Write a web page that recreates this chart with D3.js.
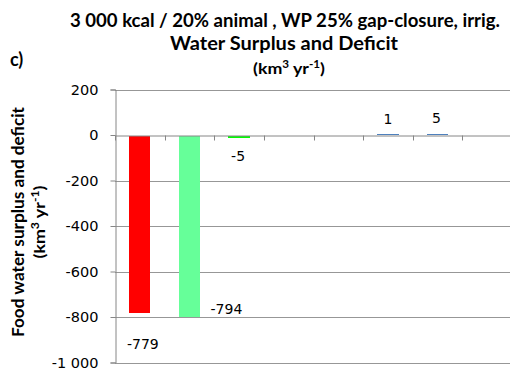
<!DOCTYPE html>
<html>
<head>
<meta charset="utf-8">
<script src="https://cdn.jsdelivr.net/npm/d3@7/dist/d3.min.js"></script>
<style>
  html, body { margin: 0; padding: 0; background: #ffffff; }
  svg { display: block; }
</style>
</head>
<body>
<svg id="chart" width="510" height="374"></svg>
<script>
// Water surplus / deficit per bar group (km3 per year); empty groups hold null
const categories = ["1", "2", "3", "4", "5", "6", "7", "8"];
const values = [-779, -794, -5, null, null, 1, 5, null];
const yTicks = [200, 0, -200, -400, -600, -800, -1000];
const titleLines = ["3 000 kcal / 20% animal , WP 25% gap-closure, irrig.", "Water Surplus and Deficit"];
const yTitle = "Food water surplus and deficit";

const barColors = ["#ff0000", "#66ff99", "#00ff00", "#4f81bd", "#4f81bd", "#4f81bd", "#4f81bd", "#4f81bd"];
// label placement relative to the bar end (dx, dy)
const labelOffsets = [[3, 37], [37, -2], [-1, 25], [0, 0], [0, 0], [0, -11], [-1, -11], [0, 0]];

const svg = d3.select("#chart");
const plot = { left: 115, right: 512, top: 89.5, bottom: 362.5 };

const x = d3.scaleBand()
  .domain(categories)
  .range([plot.left, plot.right])
  .paddingInner(0.57)
  .paddingOuter(0.285);

const y = d3.scaleLinear()
  .domain([-1000, 200])
  .range([plot.bottom, plot.top]);

const fmt = v => d3.format(",")(v).replace(/,/g, "\u00a0").replace(/\u2212/g, "-");
const zeroY = Math.round(y(0));

// horizontal gridlines
svg.append("g")
  .selectAll("line")
  .data(yTicks.filter(t => t !== 0))
  .join("line")
  .attr("x1", plot.left).attr("x2", plot.right)
  .attr("y1", d => Math.round(y(d)) + 0.5).attr("y2", d => Math.round(y(d)) + 0.5)
  .attr("stroke", "#979797").attr("stroke-width", 1);

const barData = categories.map((c, i) => ({ c, v: values[i], i })).filter(d => d.v !== null);

// bars (very small values keep a hairline so they stay visible)
svg.append("g")
  .attr("shape-rendering", "crispEdges")
  .selectAll("rect")
  .data(barData)
  .join("rect")
  .attr("x", d => x(d.c))
  .attr("width", x.bandwidth())
  .attr("y", d => d.v < 0 ? zeroY + 1 : Math.min(y(d.v), zeroY - 1))
  .attr("height", d => Math.max(Math.abs(y(d.v) - y(0)), d.v < 0 ? 2 : 1))
  .attr("fill", d => barColors[d.i]);

// y axis
const yAxis = d3.axisLeft(y)
  .tickValues(yTicks)
  .tickSize(5)
  .tickPadding(12)
  .tickFormat(fmt);
const gy = svg.append("g")
  .attr("transform", `translate(${plot.left + 0.5},0)`)
  .call(yAxis);
gy.select(".domain").attr("stroke", "#868686");
gy.selectAll(".tick line").attr("stroke", "#868686");
gy.selectAll(".tick text")
  .attr("fill", "#000")
  .style("font-family", "'DejaVu Sans', sans-serif")
  .style("font-size", "14.5px");

// category axis along zero
const xAxis = d3.axisBottom(x)
  .tickSize(0)
  .tickFormat("");
const gx = svg.append("g")
  .attr("transform", `translate(0,${zeroY + 0.5})`)
  .call(xAxis);
gx.select(".domain").attr("stroke", "#868686");
// tick marks on band boundaries
gx.selectAll(".sep")
  .data(d3.range(categories.length + 1))
  .join("line")
  .attr("class", "sep")
  .attr("x1", i => Math.round(plot.left + i * x.step()) + 0.5)
  .attr("x2", i => Math.round(plot.left + i * x.step()) + 0.5)
  .attr("y1", 0).attr("y2", 5)
  .attr("stroke", "#868686");

// data labels
svg.append("g")
  .selectAll("text")
  .data(barData)
  .join("text")
  .attr("x", d => x(d.c) + x.bandwidth() / 2 + labelOffsets[d.i][0])
  .attr("y", d => y(d.v) + labelOffsets[d.i][1])
  .attr("text-anchor", "middle")
  .style("font-family", "'DejaVu Sans', sans-serif")
  .style("font-size", "14px")
  .attr("fill", "#000")
  .text(d => fmt(d.v));

// unit text with superscripts
function unitText(sel, size, supSize, width) {
  sel.style("font-size", size + "px")
    .attr("textLength", width).attr("lengthAdjust", "spacingAndGlyphs");
  sel.append("tspan").text("(km");
  sel.append("tspan").attr("dy", -size * 0.38).style("font-size", supSize + "px").text("3");
  sel.append("tspan").attr("dy", size * 0.38).text(" yr");
  sel.append("tspan").attr("dy", -size * 0.38).style("font-size", supSize + "px").text("-1");
  sel.append("tspan").attr("dy", size * 0.38).text(")");
}

// title
const title = svg.append("g").attr("font-family", "Lato, sans-serif").attr("font-weight", "bold").attr("text-anchor", "middle");
title.append("text").attr("x", 285).attr("y", 27).style("font-size", "18px")
  .attr("textLength", 430).attr("lengthAdjust", "spacingAndGlyphs").text(titleLines[0]);
title.append("text").attr("x", 284).attr("y", 50).style("font-size", "18px")
  .attr("textLength", 228).attr("lengthAdjust", "spacingAndGlyphs").text(titleLines[1]);
unitText(title.append("text").attr("x", 289).attr("y", 74), 16, 10.5, 72);

svg.append("text")
  .attr("x", 10).attr("y", 66)
  .attr("font-family", "Lato, sans-serif").attr("font-weight", "bold")
  .style("font-size", "18px")
  .text("c)");

// y axis title
const yt = svg.append("g")
  .attr("transform", "translate(0,222) rotate(-90)")
  .attr("font-family", "Lato, sans-serif").attr("font-weight", "bold").attr("text-anchor", "middle");
yt.append("text").attr("x", 0).attr("y", 24).style("font-size", "17px")
  .attr("textLength", 230).attr("lengthAdjust", "spacingAndGlyphs").text(yTitle);
unitText(yt.append("text").attr("x", 0).attr("y", 45), 16, 11, 73);
</script>
</body>
</html>
